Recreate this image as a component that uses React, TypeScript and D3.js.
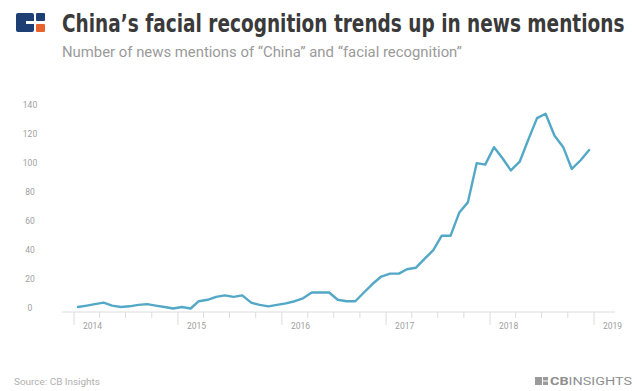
import React, { useLayoutEffect, useRef, useState } from "react";
import * as d3 from "d3";

const W = 637;
const H = 391;

const title = "China\u2019s facial recognition trends up in news mentions";
const subtitle = "Number of news mentions of \u201cChina\u201d and \u201cfacial recognition\u201d";
const source = "Source: CB Insights";

// monthly mentions, Jan 2014 - Dec 2018
const startYear = 2014;
const mentions = [
  1, 2, 3, 4, 2, 1, 1.5, 2.5, 3, 2, 1, 0,
  1, 0, 5, 6, 8, 9, 8, 9, 4, 2.5, 1.5, 2.5,
  3.5, 5, 7, 11, 11, 11, 6, 5, 5, 11, 17, 22,
  24, 24, 27, 28, 34, 40, 50, 50, 66, 73, 100, 99,
  111, 103, 95, 101, 116, 131, 134, 119, 111, 96, 102, 109,
];
const yTicks = [0, 20, 40, 60, 80, 100, 120, 140];
const yearTicks = [2014, 2015, 2016, 2017, 2018, 2019];

function FitText(props: {
  x: number;
  y: number;
  width: number;
  fontSize: number;
  fill: string;
  fontWeight?: number;
  fontFamily?: string;
  children: string;
}) {
  const ref = useRef<SVGTextElement>(null);
  const [sx, setSx] = useState(1);
  useLayoutEffect(() => {
    if (ref.current) {
      const w = ref.current.getComputedTextLength();
      if (w > 0) setSx(props.width / w);
    }
  }, [props.width, props.children]);
  return (
    <g transform={`translate(${props.x},${props.y}) scale(${sx},1)`}>
      <text
        ref={ref}
        x={0}
        y={0}
        fontSize={props.fontSize}
        fill={props.fill}
        fontWeight={props.fontWeight}
        fontFamily={props.fontFamily}
      >
        {props.children}
      </text>
    </g>
  );
}

export default function App() {
  const x = d3
    .scaleTime()
    .domain([new Date(2014, 0, 1), new Date(2019, 0, 1)])
    .range([74, 594]);
  const y = d3.scaleLinear().domain([0, 140]).range([308.5, 105]);

  const data = mentions.map((v, i) => ({ date: new Date(startYear, i, 15), v }));
  const line = d3
    .line<{ date: Date; v: number }>()
    .x((d) => x(d.date))
    .y((d) => y(d.v));

  const quarterTicks = d3.timeMonth
    .every(3)!
    .range(new Date(2014, 0, 1), new Date(2019, 0, 2));

  const axisY = 312;

  return (
    <svg
      width={W}
      height={H}
      style={{ position: "absolute", left: 0, top: 0, background: "#fff" }}
      fontFamily="Roboto, 'Noto Sans', sans-serif"
    >
      <rect width={W} height={H} fill="#fff" />
      {/* logo */}
      <g>
        <rect x={16} y={13} width={18} height={19} rx={2} fill="#1d3f73" />
        <rect x={26} y={21} width={8} height={3} fill="#fff" />
        <rect x={36} y={13} width={9} height={8} rx={1} fill="#1d3f73" />
        <rect x={36} y={24} width={9} height={8} rx={1} fill="#e8632b" />
      </g>
      <FitText
        x={62}
        y={32}
        width={563}
        fontSize={25}
        fontWeight={700}
        fill="#3a3a3a"
        fontFamily="'Liberation Sans Narrow', 'DejaVu Sans Condensed', Roboto, sans-serif"
      >
        {title}
      </FitText>
      <FitText x={62} y={57} width={400} fontSize={14} fill="#9a9a9a">
        {subtitle}
      </FitText>

      {/* y tick labels */}
      {yTicks.map((t) => (
        <text
          key={t}
          x={30}
          y={y(t)}
          dy="0.35em"
          textAnchor="middle"
          fontSize={8.5}
          fill="#a0a0a0"
        >
          {t}
        </text>
      ))}

      {/* x axis */}
      <line x1={62} x2={615} y1={axisY} y2={axisY} stroke="#dcdcdc" strokeWidth={1} />
      {quarterTicks.map((d, i) => {
        const major = d.getMonth() === 0;
        return (
          <line
            key={i}
            x1={x(d)}
            x2={x(d)}
            y1={axisY}
            y2={axisY + (major ? 13 : 6)}
            stroke="#dcdcdc"
            strokeWidth={1}
          />
        );
      })}
      {yearTicks.map((yr) => (
        <text
          key={yr}
          x={x(new Date(yr, 0, 1)) + 9}
          y={329}
          fontSize={8.5}
          fill="#a0a0a0"
        >
          {yr}
        </text>
      ))}

      {/* line */}
      <path
        d={line(data) || ""}
        fill="none"
        stroke="#52a8c6"
        strokeWidth={2.4}
        strokeLinejoin="round"
        strokeLinecap="round"
      />

      {/* footer */}
      <FitText x={14} y={385} width={86} fontSize={9.5} fill="#b0b0b0">
        {source}
      </FitText>
      <g>
        <rect x={535} y={377} width={7} height={8} fill="#9a9a9a" />
        <rect x={543} y={377} width={5} height={3.5} fill="#9a9a9a" />
        <rect x={543} y={381.5} width={5} height={3.5} fill="#9a9a9a" />
        <text x={550} y={385} fontSize={10.5} fill="#8f8f8f" textLength={82} lengthAdjust="spacingAndGlyphs">
          <tspan fontWeight={700}>CB</tspan>
          <tspan>INSIGHTS</tspan>
        </text>
      </g>
    </svg>
  );
}
